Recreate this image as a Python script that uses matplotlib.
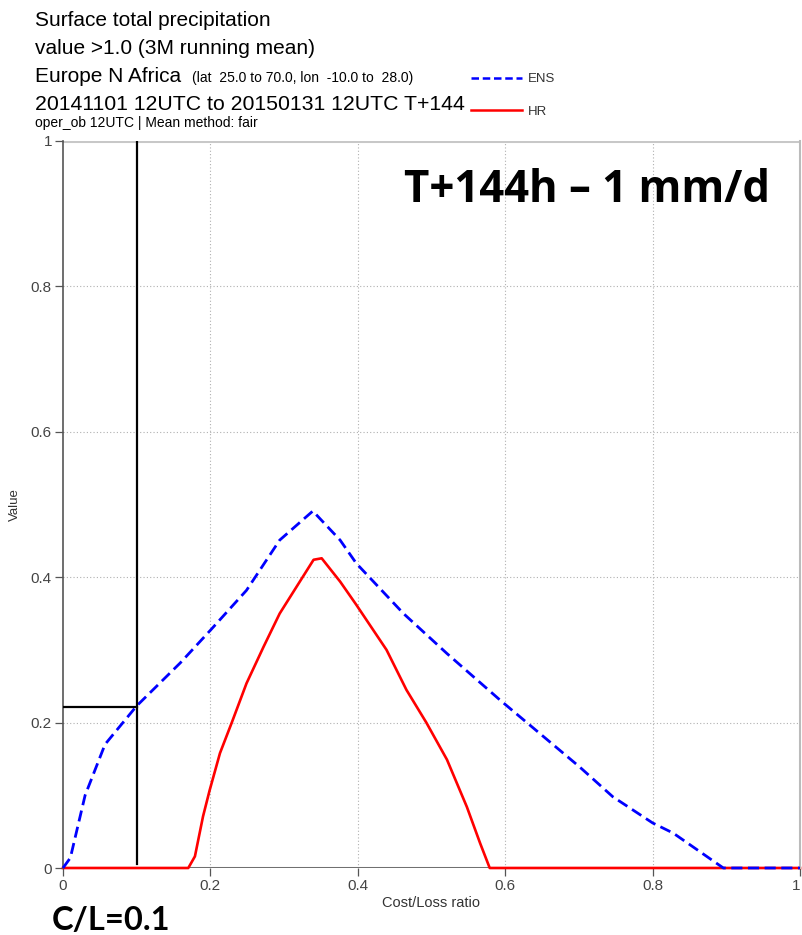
import matplotlib
matplotlib.use("Agg")
import matplotlib.pyplot as plt

# ---- data ----
ens_x = [0.0, 0.01, 0.03, 0.057, 0.10, 0.159, 0.20, 0.249, 0.294, 0.339,
         0.376, 0.398, 0.462, 0.521, 0.593, 0.701, 0.746, 0.80, 0.828, 0.896, 1.0]
ens_y = [0.0, 0.014, 0.10, 0.17, 0.223, 0.282, 0.327, 0.382, 0.451, 0.491,
         0.451, 0.419, 0.350, 0.295, 0.231, 0.139, 0.098, 0.062, 0.048, 0.0, 0.0]
hr_x = [0.0, 0.170, 0.179, 0.190, 0.199, 0.213, 0.229, 0.249, 0.272, 0.294,
        0.317, 0.340, 0.351, 0.376, 0.398, 0.439, 0.466, 0.493, 0.521, 0.548,
        0.566, 0.579, 1.0]
hr_y = [0.0, 0.0, 0.016, 0.071, 0.107, 0.158, 0.200, 0.254, 0.304, 0.350,
        0.387, 0.424, 0.426, 0.394, 0.362, 0.300, 0.245, 0.200, 0.149, 0.084,
        0.034, 0.0, 0.0]
cl_ratio = 0.1
cl_value = 0.222
ticks = [0, 0.2, 0.4, 0.6, 0.8, 1]
tick_labels = ["0", "0.2", "0.4", "0.6", "0.8", "1"]

W, H = 802, 935
fig = plt.figure(figsize=(W / 100, H / 100), dpi=100)
ax = fig.add_axes([63 / W, 1 - 868 / H, (800 - 63) / W, (868 - 141) / H])

ax.set_xlim(0, 1)
ax.set_ylim(0, 1)

# grid
for t in ticks[1:-1]:
    ax.axhline(t, color="#b0b0b0", lw=0.8, ls=(0, (1, 2)), zorder=0)
    ax.axvline(t, color="#b0b0b0", lw=0.8, ls=(0, (1, 2)), zorder=0)
ax.axhline(1, color="#c8c8c8", lw=2.2, zorder=0)
ax.axhline(0, color="#707070", lw=2.2, zorder=1)

ax.plot(ens_x, ens_y, color="#0000ff", lw=2.0, ls=(0, (4, 2)), zorder=3, clip_on=False)
ax.plot(hr_x, hr_y, color="#ff0000", lw=1.9, zorder=2, clip_on=False)

# C/L marker lines
ax.plot([cl_ratio, cl_ratio], [0.006, 1.0], color="black", lw=1.6, zorder=4)
ax.plot([0, cl_ratio], [cl_value, cl_value], color="black", lw=1.6, zorder=4)

for side in ["top", "bottom"]:
    ax.spines[side].set_visible(False)
ax.spines["left"].set_color("#555555")
ax.spines["left"].set_linewidth(1.2)
ax.spines["right"].set_color("#bbbbbb")
ax.spines["right"].set_linewidth(1.5)

sans = "Liberation Sans"
ax.set_xticks(ticks)
ax.set_xticklabels(tick_labels)
ax.set_yticks(ticks)
ax.set_yticklabels(tick_labels)
ax.tick_params(direction="out", length=6, width=0.9, color="#555555",
               labelsize=11, labelcolor="#444444", pad=2)
for lab in ax.get_xticklabels() + ax.get_yticklabels():
    lab.set_family(sans)
ax.get_xticklabels()[-1].set_ha("right")
ax.set_xlabel("Cost/Loss ratio", fontsize=10.5, color="#333333", family=sans)
ax.xaxis.set_label_coords(0.5, -(903 - 868) / 727)
ax.set_ylabel("Value", fontsize=9.5, color="#333333", family=sans)
ax.yaxis.set_label_coords(-(63 - 15) / 737, 0.5)
ax.xaxis.label.set_va("center")
ax.yaxis.label.set_va("center")


def fx(px):
    return px / W


def fy(py):
    return 1 - py / H


fig.text(fx(35), fy(20), "Surface total precipitation", fontsize=15,
         family=sans, va="center", ha="left")
fig.text(fx(35), fy(48), "value >1.0 (3M running mean)", fontsize=15,
         family=sans, va="center", ha="left")
fig.text(fx(35), fy(76), "Europe N Africa", fontsize=15,
         family=sans, va="center", ha="left")
fig.text(fx(192), fy(78), "(lat  25.0 to 70.0, lon  -10.0 to  28.0)", fontsize=10,
         family=sans, va="center", ha="left")
fig.text(fx(35), fy(104), "20141101 12UTC to 20150131 12UTC T+144", fontsize=15.3,
         family=sans, va="center", ha="left")
fig.text(fx(35), fy(123), "oper_ob 12UTC | Mean method: fair", fontsize=10,
         family=sans, va="center", ha="left")

# legend
fig.add_artist(plt.Line2D([fx(471), fx(522)], [fy(78), fy(78)], color="#0000ff",
                          lw=1.8, ls=(0, (3, 1.5))))
fig.text(fx(528), fy(79), "ENS", fontsize=9.5, family=sans, va="center",
         color="#333333")
fig.add_artist(plt.Line2D([fx(471), fx(522)], [fy(110), fy(110)], color="#ff0000",
                          lw=1.8))
fig.text(fx(528), fy(112), "HR", fontsize=9.5, family=sans, va="center",
         color="#333333")

# annotations
fig.text(fx(770), fy(190), "T+144h \u2013 1 mm/d", fontsize=31.5, fontweight="bold",
         family="Open Sans", ha="right", va="center")
fig.text(fx(52), fy(920), "C/L=0.1", fontsize=23.5, fontweight="bold",
         family="Lato", ha="left", va="center")

fig.savefig("out.png", dpi=100)
